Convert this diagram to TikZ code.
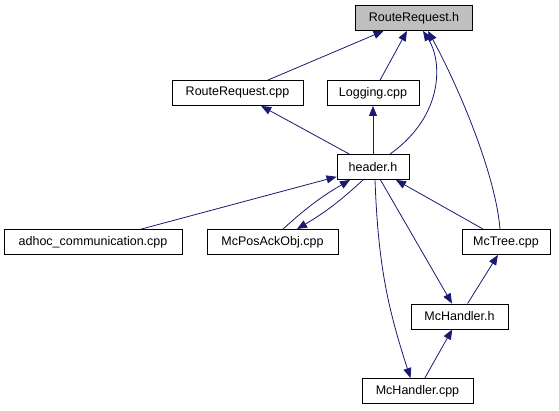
\documentclass[tikz,border=0pt]{standalone}
\usepackage{fontspec}
\setmainfont{Liberation Sans}
\usetikzlibrary{arrows.meta,calc}
\definecolor{edgeblue}{HTML}{191970}
\definecolor{headgray}{HTML}{BFBFBF}

\begin{document}
\begin{tikzpicture}[x=1pt,y=-1pt,
    filebox/.style={draw=black,line width=0.9pt,minimum height=25pt,inner sep=0pt,
        font=\fontsize{12.5}{14}\selectfont},
    incl/.style={draw=edgeblue,line width=0.8pt,-{Triangle[length=10pt,width=8pt]}}]

\useasboundingbox (0,0) rectangle (559,411);

% Files
\node[filebox,fill=headgray,minimum width=117pt] (rrh) at (414,18) {RouteRequest.h};
\node[filebox,minimum width=131pt] (rrcpp) at (237.5,93) {RouteRequest.cpp};
\node[filebox,minimum width=92pt] (logcpp) at (373,93) {Logging.cpp};
\node[filebox,minimum width=72pt] (hdr) at (373,167) {header.h};
\node[filebox,minimum width=178pt] (adhoc) at (93,242) {adhoc\_communication.cpp};
\node[filebox,minimum width=131pt] (mcpos) at (272.5,242) {McPosAckObj.cpp};
\node[filebox,minimum width=88pt] (mctree) at (506,242) {McTree.cpp};
\node[filebox,minimum width=97pt] (mchh) at (459.5,316.5) {McHandler.h};
\node[filebox,minimum width=111pt] (mchcpp) at (417.5,391) {McHandler.cpp};

% Includes into RouteRequest.h
\draw[incl] (rrcpp) -- (rrh);
\draw[incl] (logcpp) -- (rrh);
\draw[incl] ($(hdr.north)+(17,0)$) .. controls (445,115) and (442,60) .. ($(rrh.south)+(9,0)$);
\draw[incl] ($(mctree.north)+(-6,0)$) .. controls (495,170) and (455,80) .. ($(rrh.south)+(14,0)$);

% header.h
\draw[incl] (hdr) -- (rrcpp);
\draw[incl] (hdr) -- (logcpp);
\draw[incl] (adhoc) -- (hdr);
\draw[incl] ($(mcpos.north)+(10.5,0)$) to[bend left=6] ($(hdr.south)+(-23,0)$);
\draw[incl] ($(hdr.south)+(-10,0)$) to[bend left=6] ($(mcpos.north)+(24.5,0)$);
\draw[incl] (mctree) -- (hdr);
\draw[incl] (hdr) -- (mchh);
\draw[incl] ($(hdr.south)+(2,0)$) to[bend right=8] ($(mchcpp.north)+(-7,0)$);

% McHandler
\draw[incl] (mchh) -- (mctree);
\draw[incl] (mchcpp) -- (mchh);

\end{tikzpicture}
\end{document}
